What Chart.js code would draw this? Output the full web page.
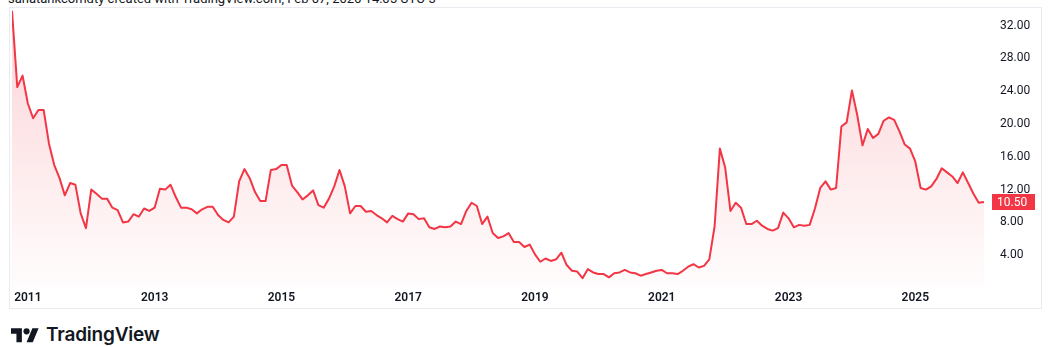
<!DOCTYPE html>
<html>
<head>
<meta charset="utf-8">
<script src="https://cdn.jsdelivr.net/npm/chart.js@4.4.1/dist/chart.umd.min.js"></script>
<style>
  html, body { margin: 0; padding: 0; background: #fff; }
  #wrap { position: relative; width: 1050px; height: 347px; overflow: hidden; font-family: Roboto, "Liberation Sans", sans-serif; }
  #head { position: absolute; left: 8px; top: -9px; font-size: 13px; color: #131722; white-space: nowrap; }
  #frame { position: absolute; left: 9px; top: 7px; width: 1031px; height: 300px; border: 1px solid #e9ebf0; }
  #cv { position: absolute; left: 0; top: 0; }
  #logo { position: absolute; left: 11px; top: 325px; height: 22px; }
  #brand { position: absolute; left: 46px; top: 323px; font-family: Inter, Roboto, sans-serif; font-weight: 600; font-size: 19px; color: #131722; letter-spacing: -0.2px; }
</style>
</head>
<body>
<div id="wrap">
  <div id="head">sanatankcomdty created with TradingView.com, Feb 07, 2026 14:05 UTC-5</div>
  <div id="frame"></div>
  <canvas id="cv" width="1050" height="310"></canvas>
  <svg id="logo" width="28" height="22" viewBox="0 0 36 28">
    <path d="M14 22H7V11H0V4h14v18zM28 22h-8l7.5-18h8L28 22z" fill="#131722"/>
    <circle cx="20" cy="8" r="4" fill="#131722"/>
  </svg>
  <div id="brand">TradingView</div>
</div>
<script>
// monthly closes, first point = Oct 2010
var startYear = 2010, startMonth = 10;
var values = [
  33.8, 24.5, 25.9,
  22.5, 20.7, 21.7, 21.7, 17.6, 15.0, 13.4, 11.3, 12.8, 12.6, 9.1, 7.3,
  12.0, 11.5, 10.9, 10.9, 9.8, 9.5, 8.0, 8.1, 9.0, 8.7, 9.7, 9.4,
  9.8, 12.1, 12.0, 12.6, 11.1, 9.8, 9.8, 9.6, 9.1, 9.6, 9.9, 9.9,
  8.9, 8.3, 8.0, 8.7, 13.0, 14.5, 13.4, 11.7, 10.6, 10.6, 14.4, 14.5,
  15.0, 15.0, 12.5, 11.7, 10.8, 11.3, 11.9, 10.1, 9.8, 10.9, 12.4, 14.4,
  12.4, 9.1, 10.0, 10.0, 9.3, 9.4, 8.9, 8.5, 8.0, 8.8, 8.4, 8.1,
  9.1, 9.0, 8.4, 8.5, 7.4, 7.2, 7.5, 7.4, 7.5, 8.1, 7.8, 9.4,
  10.4, 10.0, 7.8, 8.7, 6.7, 6.1, 6.3, 6.7, 5.6, 5.6, 5.0, 5.3,
  4.1, 3.2, 3.6, 3.3, 3.5, 4.3, 2.8, 2.1, 2.0, 1.2, 2.3, 1.9,
  1.7, 1.7, 1.3, 1.8, 1.9, 2.2, 1.9, 1.8, 1.5, 1.7, 1.9, 2.1,
  2.2, 1.8, 1.8, 1.7, 2.1, 2.6, 2.9, 2.5, 2.7, 3.5, 7.5, 17.0,
  14.7, 9.4, 10.4, 9.8, 7.8, 7.8, 8.2, 7.6, 7.2, 7.0, 7.3, 9.2,
  8.5, 7.4, 7.7, 7.6, 7.7, 9.7, 12.2, 13.0, 12.0, 12.2, 19.7, 20.2,
  24.1, 21.1, 17.4, 19.4, 18.3, 18.8, 20.4, 20.8, 20.5, 19.1, 17.5, 17.0,
  15.4, 12.2, 12.0, 12.4, 13.3, 14.6, 14.1, 13.6, 12.8, 14.1, 12.8, 11.5,
  10.4, 10.5
];
var yearLabels = ['2011', '2013', '2015', '2017', '2019', '2021', '2023', '2025'];
var priceTicks = [4, 8, 12, 16, 20, 24, 28, 32];

var lineColor = '#f23645';

function yearIndex(y) {
  return (parseInt(y) - startYear) * 12 - (startMonth - 1);
}

var points = values.map(function (v, i) { return { x: i, y: v }; });

// red tag with the last value on the price scale
var lastTag = {
  id: 'lastTag',
  afterDraw: function (chart) {
    var ctx = chart.ctx;
    var ys = chart.scales.y;
    var last = values[values.length - 1];
    var py = ys.getPixelForValue(last);
    ctx.save();
    ctx.fillStyle = lineColor;
    ctx.fillRect(992, Math.round(py) - 8, 43, 16);
    ctx.fillStyle = '#fff';
    ctx.font = '12px Roboto';
    ctx.textBaseline = 'middle';
    ctx.textAlign = 'left';
    ctx.fillText(last.toFixed(2), 997, Math.round(py) + 0.5);
    ctx.restore();
  }
};

new Chart(document.getElementById('cv'), {
  type: 'line',
  data: {
    datasets: [{
      data: points,
      borderColor: lineColor,
      borderWidth: 2,
      pointRadius: 0,
      tension: 0,
      borderJoinStyle: 'round',
      fill: 'origin',
      backgroundColor: function (c) {
        var a = c.chart.chartArea;
        if (!a) return 'rgba(242,54,69,0.1)';
        var g = c.chart.ctx.createLinearGradient(0, a.top, 0, a.bottom);
        g.addColorStop(0, 'rgba(242,54,69,0.22)');
        g.addColorStop(1, 'rgba(242,54,69,0.01)');
        return g;
      }
    }]
  },
  options: {
    responsive: false,
    animation: false,
    layout: { padding: { left: 12, right: 10, top: 8, bottom: 2 } },
    plugins: { legend: { display: false }, tooltip: { enabled: false } },
    scales: {
      x: {
        type: 'linear',
        min: 0,
        max: values.length - 1,
        grid: { display: false, drawTicks: false },
        border: { display: false },
        afterBuildTicks: function (s) {
          s.ticks = yearLabels.map(function (y) { return { value: yearIndex(y) }; });
        },
        afterFit: function (s) {
          s.height = 20;
          s.paddingLeft = 0;
          s.paddingRight = 0;
        },
        ticks: {
          autoSkip: false,
          maxRotation: 0,
          padding: 3,
          color: '#131722',
          font: { family: 'Roboto', size: 12, weight: '600' },
          callback: function (v) {
            for (var k = 0; k < yearLabels.length; k++) {
              if (yearIndex(yearLabels[k]) === v) return yearLabels[k];
            }
            return '';
          }
        }
      },
      y: {
        position: 'right',
        min: 0,
        max: 34.15,
        grid: { display: false, drawTicks: false },
        border: { display: false },
        afterBuildTicks: function (s) {
          s.ticks = priceTicks.map(function (v) { return { value: v }; });
        },
        afterFit: function (s) {
          s.width = 56;
          s.paddingTop = 0;
          s.paddingBottom = 0;
        },
        ticks: {
          padding: 16,
          color: '#131722',
          font: { family: 'Roboto', size: 12 },
          callback: function (v) { return v.toFixed(2); }
        }
      }
    }
  },
  plugins: [lastTag]
});
</script>
</body>
</html>
